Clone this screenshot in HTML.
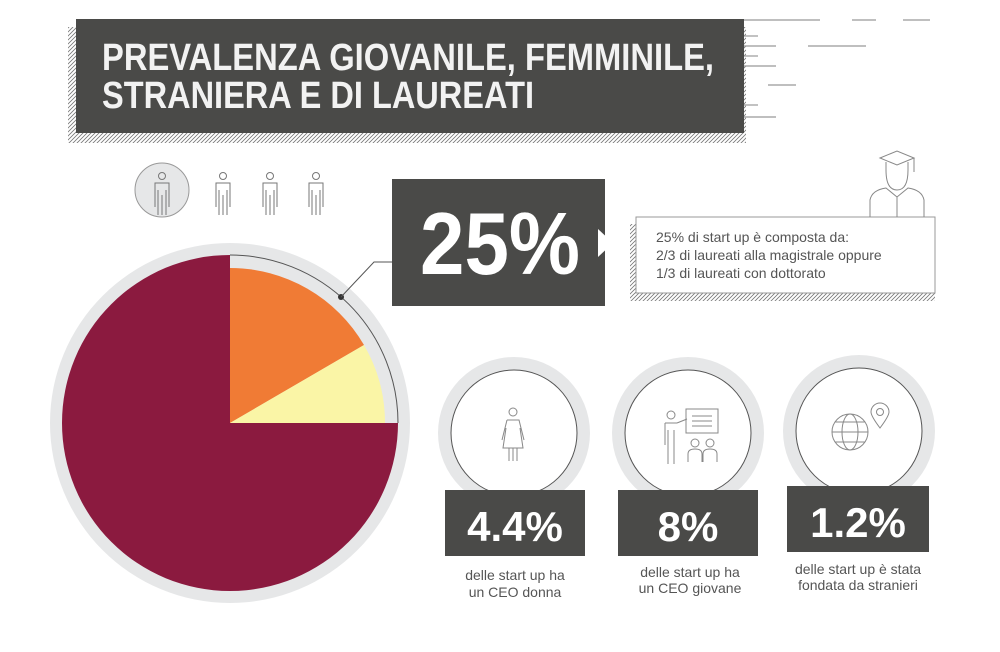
<!DOCTYPE html>
<html><head><meta charset="utf-8"><style>
html,body{margin:0;padding:0;background:#fff;}
svg{display:block;}
.t{font-family:"Liberation Sans Narrow","Liberation Sans",sans-serif;font-weight:bold;fill:#f2f2f2;}
.n{font-family:"Liberation Sans",sans-serif;font-weight:bold;fill:#fff;}
.c{font-family:"Liberation Sans",sans-serif;fill:#555;font-size:14px;}
</style></head><body>
<svg width="1000" height="652" viewBox="0 0 1000 652" xmlns="http://www.w3.org/2000/svg">
<defs>
<pattern id="h" width="4" height="4" patternUnits="userSpaceOnUse"><path d="M-1,1 l2,-2 M0,4 l4,-4 M3,5 l2,-2" stroke="#777" stroke-width="0.8"/></pattern>
</defs>
<!-- title -->
<rect x="68" y="27" width="678" height="116" fill="url(#h)"/>
<rect x="76" y="19" width="668" height="114" fill="#4a4a48"/>
<text class="t" x="102" y="70" font-size="38" textLength="612" lengthAdjust="spacingAndGlyphs">PREVALENZA GIOVANILE, FEMMINILE,</text>
<text class="t" x="102" y="108" font-size="38" textLength="432" lengthAdjust="spacingAndGlyphs">STRANIERA E DI LAUREATI</text>
<g stroke="#999" stroke-width="1.2">
<line x1="744" y1="20" x2="820" y2="20"/><line x1="852" y1="20" x2="876" y2="20"/><line x1="903" y1="20" x2="930" y2="20"/>
<line x1="744" y1="36" x2="758" y2="36"/><line x1="744" y1="46" x2="776" y2="46"/><line x1="808" y1="46" x2="866" y2="46"/>
<line x1="744" y1="56" x2="758" y2="56"/><line x1="744" y1="66" x2="776" y2="66"/><line x1="768" y1="85" x2="796" y2="85"/>
<line x1="744" y1="105" x2="758" y2="105"/><line x1="744" y1="117" x2="776" y2="117"/>
</g>
<!-- person icons -->
<circle cx="162" cy="190" r="27" fill="#e6e7e8" stroke="#999"/>
<g fill="none" stroke="#777" stroke-width="1">
<g id="p"><circle cx="162" cy="176" r="3.5"/><path d="M155,207 V183 h14 V207 M158,190 V215 M166,190 V215 M162,195 V215"/></g>
<use href="#p" x="61"/><use href="#p" x="108"/><use href="#p" x="154"/>
</g>
<!-- pie -->
<circle cx="230" cy="423" r="180" fill="#e6e7e8"/>
<path d="M230,423 L230,255 A168,168 0 1,0 398,423 Z" fill="#8b1a3f"/>
<path d="M230,423 L230,268 A155,155 0 0,1 364,345 Z" fill="#f07b35"/>
<path d="M230,423 L364,345 A155,155 0 0,1 385,423 Z" fill="#faf5a6"/>
<path d="M230,255 A168,168 0 0,1 398,423" fill="none" stroke="#555" stroke-width="1"/>
<circle cx="341" cy="297" r="3" fill="#333"/>
<polyline points="341,297 374,262 392,262" fill="none" stroke="#555" stroke-width="1"/>
<!-- 25% box -->
<rect x="392" y="179" width="213" height="127" fill="#4a4a48"/>
<text class="n" x="500" y="274" font-size="88" text-anchor="middle" textLength="160" lengthAdjust="spacingAndGlyphs">25%</text>
<polygon points="598,229 613,243 598,257" fill="#fff"/>
<!-- text box -->
<rect x="630" y="224" width="305" height="77" fill="url(#h)"/>
<rect x="636" y="217" width="299" height="76" fill="#fff" stroke="#999"/>
<text class="c" x="656" y="242">25% di start up è composta da:</text>
<text class="c" x="656" y="260">2/3 di laureati alla magistrale oppure</text>
<text class="c" x="656" y="278">1/3 di laureati con dottorato</text>
<!-- graduate -->
<g fill="none" stroke="#888" stroke-width="1">
<path d="M880,158 L897,151 L914,158 L897,165 Z M886,162 V170 M908,162 V170 M914,158 V172"/>
<path d="M886,170 Q886,190 897,190 Q908,190 908,170"/>
<path d="M870,217 V200 Q872,190 886,188 L897,197 L908,188 Q922,190 924,200 V217 M897,197 V217"/>
</g>
<!-- small circles -->
<g>
<circle cx="514" cy="433" r="76" fill="#e6e7e8"/><circle cx="514" cy="433" r="63" fill="#fff" stroke="#555"/>
<circle cx="688" cy="433" r="76" fill="#e6e7e8"/><circle cx="688" cy="433" r="63" fill="#fff" stroke="#555"/>
<circle cx="859" cy="431" r="76" fill="#e6e7e8"/><circle cx="859" cy="431" r="63" fill="#fff" stroke="#555"/>
</g>
<g fill="none" stroke="#888" stroke-width="1">
<circle cx="513" cy="412" r="4"/><path d="M507,420 h12 l5,20 M507,420 l-5,20 M506,428 l-3,20 h20 l-3,-20 M509,448 v13 M517,448 v13 M513,448 v13"/>
<circle cx="671" cy="415" r="4"/><path d="M665,423 h12 M665,423 v22 M668,430 v34 M674,430 v34 M677,423 l10,-4"/>
<rect x="686" y="409" width="32" height="24"/><path d="M692,416 h20 M692,421 h20 M692,426 h20"/>
<circle cx="695" cy="443" r="4"/><circle cx="710" cy="443" r="4"/><path d="M688,462 v-8 q0,-5 7,-5 q7,0 7,5 v8 M703,462 v-8 q0,-5 7,-5 q7,0 7,5 v8"/>
<circle cx="850" cy="432" r="18"/><ellipse cx="850" cy="432" rx="8" ry="18"/><path d="M832,432 h36 M835,422 h30 M835,442 h30"/>
<path d="M880,428 q-9,-12 -9,-16 a9,9 0 0,1 18,0 q0,4 -9,16 Z"/><circle cx="880" cy="412" r="3.5"/>
</g>
<!-- boxes -->
<rect x="445" y="490" width="140" height="66" fill="#4a4a48"/><polygon points="503,490 513,480 523,490" fill="#fff"/>
<text class="n" x="515" y="541" font-size="42" text-anchor="middle">4.4%</text>
<rect x="618" y="490" width="140" height="66" fill="#4a4a48"/><polygon points="678,490 688,480 698,490" fill="#fff"/>
<text class="n" x="688" y="541" font-size="42" text-anchor="middle">8%</text>
<rect x="787" y="486" width="142" height="66" fill="#4a4a48"/><polygon points="848,486 858,476 868,486" fill="#fff"/>
<text class="n" x="858" y="537" font-size="42" text-anchor="middle">1.2%</text>
<text class="c" x="515" y="580" text-anchor="middle" font-size="15">delle start up ha</text>
<text class="c" x="515" y="597" text-anchor="middle" font-size="15">un CEO donna</text>
<text class="c" x="690" y="577" text-anchor="middle" font-size="13">delle start up ha</text>
<text class="c" x="690" y="593" text-anchor="middle" font-size="13">un CEO giovane</text>
<text class="c" x="858" y="574" text-anchor="middle" font-size="13">delle start up è stata</text>
<text class="c" x="858" y="590" text-anchor="middle" font-size="13">fondata da stranieri</text>
</svg>
</body></html>
